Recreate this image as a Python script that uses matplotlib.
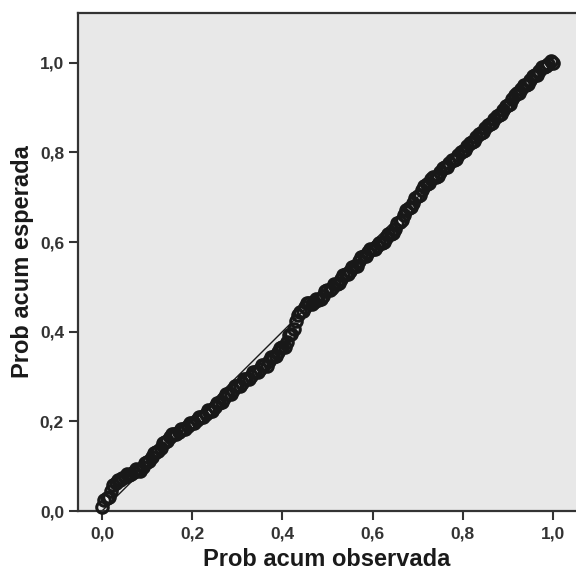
import matplotlib
matplotlib.use("Agg")
import matplotlib.pyplot as plt

# Observed cumulative probability (x) and expected cumulative probability (y)
observed = [0.00, 0.01, 0.02, 0.03, 0.04, 0.05, 0.06, 0.07, 0.08, 0.09,
            0.10, 0.11, 0.12, 0.13, 0.14, 0.15, 0.16, 0.17, 0.18, 0.19,
            0.20, 0.21, 0.22, 0.23, 0.24, 0.25, 0.26, 0.27, 0.28, 0.29,
            0.30, 0.31, 0.32, 0.33, 0.34, 0.35, 0.36, 0.37, 0.38, 0.39,
            0.40, 0.41, 0.42, 0.43, 0.44, 0.45, 0.46, 0.47, 0.48, 0.49,
            0.50, 0.51, 0.52, 0.53, 0.54, 0.55, 0.56, 0.57, 0.58, 0.59,
            0.60, 0.61, 0.62, 0.63, 0.64, 0.65, 0.66, 0.67, 0.68, 0.69,
            0.70, 0.71, 0.72, 0.73, 0.74, 0.75, 0.76, 0.77, 0.78, 0.79,
            0.80, 0.81, 0.82, 0.83, 0.84, 0.85, 0.86, 0.87, 0.88, 0.89,
            0.90, 0.91, 0.92, 0.93, 0.94, 0.95, 0.96, 0.97, 0.98, 0.99, 1.00]
expected = [0.010, 0.028, 0.045, 0.062, 0.070, 0.075, 0.080, 0.086, 0.091, 0.098,
            0.110, 0.120, 0.131, 0.141, 0.155, 0.165, 0.171, 0.177, 0.183, 0.189,
            0.196, 0.202, 0.209, 0.217, 0.224, 0.232, 0.242, 0.251, 0.261, 0.270,
            0.278, 0.286, 0.294, 0.301, 0.309, 0.317, 0.325, 0.334, 0.344, 0.354,
            0.366, 0.378, 0.395, 0.424, 0.444, 0.456, 0.463, 0.466, 0.470, 0.480,
            0.494, 0.498, 0.506, 0.518, 0.528, 0.536, 0.546, 0.558, 0.568, 0.577,
            0.584, 0.591, 0.599, 0.608, 0.618, 0.630, 0.645, 0.660, 0.675, 0.688,
            0.702, 0.716, 0.730, 0.740, 0.745, 0.756, 0.768, 0.776, 0.784, 0.794,
            0.804, 0.814, 0.824, 0.834, 0.844, 0.854, 0.864, 0.874, 0.884, 0.894,
            0.906, 0.919, 0.932, 0.942, 0.951, 0.962, 0.972, 0.982, 0.991, 0.998, 1.000]

# Second group of cases lying between the first ones (slightly off the centre of the band)
observed_b = [0.005, 0.015, 0.025, 0.035, 0.045, 0.055, 0.065, 0.075, 0.085, 0.095,
              0.105, 0.115, 0.125, 0.135, 0.145, 0.155, 0.165, 0.175, 0.185, 0.195,
              0.205, 0.215, 0.225, 0.235, 0.245, 0.255, 0.265, 0.275, 0.285, 0.295,
              0.305, 0.315, 0.325, 0.335, 0.345, 0.355, 0.365, 0.375, 0.385, 0.395,
              0.405, 0.415, 0.425, 0.435, 0.445, 0.455, 0.465, 0.475, 0.485, 0.495,
              0.505, 0.515, 0.525, 0.535, 0.545, 0.555, 0.565, 0.575, 0.585, 0.595,
              0.605, 0.615, 0.625, 0.635, 0.645, 0.655, 0.665, 0.675, 0.685, 0.695,
              0.705, 0.715, 0.725, 0.735, 0.745, 0.755, 0.765, 0.775, 0.785, 0.795,
              0.805, 0.815, 0.825, 0.835, 0.845, 0.855, 0.865, 0.875, 0.885, 0.895,
              0.905, 0.915, 0.925, 0.935, 0.945, 0.955, 0.965, 0.975, 0.985, 0.995]
expected_b = [0.024, 0.032, 0.058, 0.070, 0.074, 0.082, 0.083, 0.093, 0.090, 0.108,
              0.112, 0.130, 0.133, 0.152, 0.157, 0.172, 0.171, 0.184, 0.183, 0.196,
              0.196, 0.210, 0.209, 0.225, 0.224, 0.241, 0.243, 0.260, 0.262, 0.278,
              0.278, 0.294, 0.294, 0.309, 0.309, 0.325, 0.324, 0.343, 0.345, 0.364,
              0.366, 0.392, 0.405, 0.438, 0.447, 0.464, 0.462, 0.473, 0.472, 0.491,
              0.493, 0.506, 0.509, 0.526, 0.529, 0.545, 0.547, 0.566, 0.569, 0.585,
              0.584, 0.598, 0.601, 0.617, 0.620, 0.642, 0.650, 0.671, 0.678, 0.698,
              0.705, 0.726, 0.732, 0.745, 0.748, 0.765, 0.768, 0.783, 0.785, 0.802,
              0.805, 0.822, 0.825, 0.842, 0.845, 0.862, 0.865, 0.882, 0.885, 0.903,
              0.908, 0.928, 0.933, 0.950, 0.953, 0.970, 0.973, 0.990, 0.992, 1.003]

# Reference (diagonal) line end points
ref_line = [0.0, 1.0]

tick_values = [0.0, 0.2, 0.4, 0.6, 0.8, 1.0]
tick_labels = ["0,0", "0,2", "0,4", "0,6", "0,8", "1,0"]

x_label = "Prob acum observada"
y_label = "Prob acum esperada"

W, H = 576, 579
fig = plt.figure(figsize=(W / 100, H / 100), dpi=100)
ax = fig.add_axes([78 / W, 1 - 511 / H, (576 - 78) / W, (511 - 13) / H])
ax.set_facecolor("#e8e8e8")

ax.plot(ref_line, ref_line, color="#1a1a1a", lw=1.0, zorder=2)
marker_style = dict(linestyle="none", marker="o", markersize=8.3,
                    markerfacecolor="none", markeredgecolor="#181818",
                    markeredgewidth=2.2, zorder=3, clip_on=False)
ax.plot(observed, expected, **marker_style)
ax.plot(observed_b, expected_b, **marker_style)

ax.set_xlim(-0.0532, 1.051)
ax.set_ylim(0.0, 1.111)

font = "Liberation Sans"
ax.set_xticks(tick_values)
ax.set_xticklabels(tick_labels, fontsize=12.5, fontweight="bold", color="#333333", family=font)
ax.set_yticks(tick_values)
ax.set_yticklabels(tick_labels, fontsize=12.5, fontweight="bold", color="#333333", family=font)
ax.tick_params(axis="both", direction="out", length=6.5, width=1.5, color="#333333")
ax.tick_params(axis="x", pad=4.5)
ax.tick_params(axis="y", pad=3.5)

ax.set_xlabel(x_label, fontsize=17, fontweight="bold", color="#1a1a1a", family=font, labelpad=5)
ax.set_ylabel(y_label, fontsize=17, fontweight="bold", color="#1a1a1a", family=font, labelpad=4)

for side in ["left", "bottom", "top"]:
    ax.spines[side].set_color("#333333")
    ax.spines[side].set_linewidth(1.6)
ax.spines["right"].set_visible(False)

fig.savefig("out.png", dpi=100, facecolor="white")
